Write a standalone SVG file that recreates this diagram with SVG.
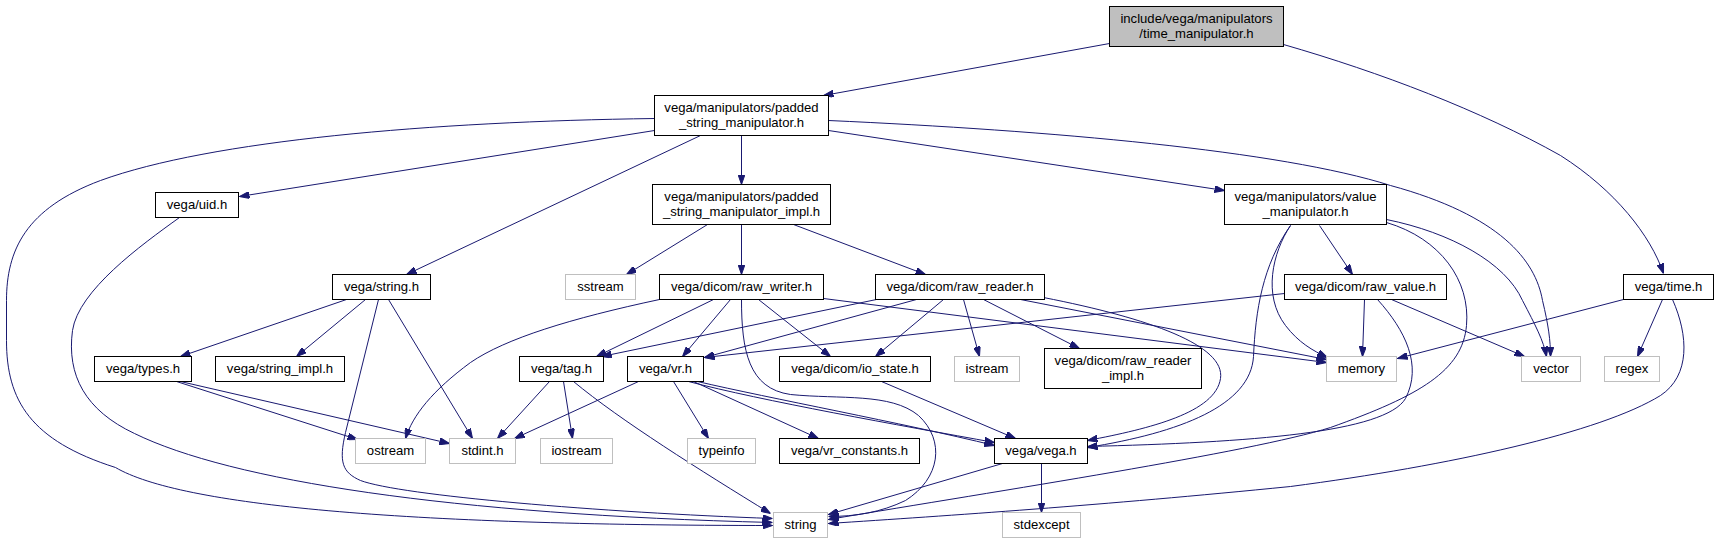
<svg xmlns="http://www.w3.org/2000/svg" width="1719" height="544" viewBox="0 0 1719 544">
<style>
.n rect{fill:#ffffff;stroke:#000000;stroke-width:1}
.n.g rect{stroke:#bfbfbf}
.n.top rect{fill:#bfbfbf}
.n text{font-family:"Liberation Sans",Arial,Helvetica,sans-serif;font-size:13.1px;text-anchor:middle;fill:#000000}
#edges path{fill:none;stroke:#191970;stroke-width:1;marker-end:url(#ah)}
</style>
<defs>
<marker id="ah" viewBox="0 0 10 7" refX="10" refY="3.5" markerWidth="10" markerHeight="7" orient="auto" markerUnits="userSpaceOnUse">
<path d="M0,0 L10,3.5 L0,7 z" fill="#191970" stroke="#191970" stroke-width="1"/>
</marker>
</defs>
<rect width="1719" height="544" fill="#ffffff"/>
<g transform="translate(0.5,0.5)">
<g id="edges">
<path d="M1109,43 L823,95"/>
<path d="M1283,44 C1380,72 1480,110 1560,155 C1615,190 1650,235 1663,273"/>
<path d="M654,118 C430,121 210,140 100,180 C25,208 6,250 6,300 L6,340 C6,400 30,440 115,467 C180,505 400,525 772,525"/>
<path d="M654,130 L239,196"/>
<path d="M700,135 L406,274"/>
<path d="M741,135 L741,184"/>
<path d="M828,130 L1224,190"/>
<path d="M828,120 C1050,130 1280,150 1390,185 C1500,215 1535,260 1542,300 C1548,325 1550,340 1550,356"/>
<path d="M179,217 C140,245 78,290 72,330 C66,375 85,410 134,433 C230,480 450,514 772,522"/>
<path d="M346,299 L180,356"/>
<path d="M365,299 L296,356"/>
<path d="M378,299 L345,432 C338,462 342,472 360,480 C400,495 600,512 772,518"/>
<path d="M388,299 L472,438"/>
<path d="M176,381 L357,439"/>
<path d="M180,381 L449,443"/>
<path d="M707,224 L626,274"/>
<path d="M741,224 L741,274"/>
<path d="M793,224 L925,274"/>
<path d="M659,299 C570,318 505,338 470,362 C432,390 412,415 405,438"/>
<path d="M713,299 L596,356"/>
<path d="M730,299 L682,356"/>
<path d="M741,299 C741,350 748,388 790,394 C840,399 890,392 918,415 C945,440 940,478 905,500 C880,512 855,516 828,516"/>
<path d="M758,299 L830,356"/>
<path d="M823,298 L1326,362"/>
<path d="M876,299 L601,356"/>
<path d="M916,299 L704,357"/>
<path d="M943,299 L875,356"/>
<path d="M963,299 L979,356"/>
<path d="M983,299 L1079,348"/>
<path d="M1020,299 L1326,359"/>
<path d="M1043,297 C1150,318 1225,345 1220,378 C1215,412 1150,428 1087,440"/>
<path d="M549,381 L497,438"/>
<path d="M563,381 L572,438"/>
<path d="M573,381 C620,420 700,470 770,513"/>
<path d="M638,381 L514,438"/>
<path d="M673,381 L708,438"/>
<path d="M693,381 L818,438"/>
<path d="M688,381 C760,400 900,425 994,442"/>
<path d="M697,381 C770,398 900,422 994,445"/>
<path d="M881,381 L1015,438"/>
<path d="M1002,463 L828,514"/>
<path d="M1041,463 L1041,512"/>
<path d="M1319,225 L1352,274"/>
<path d="M1290,225 C1272,252 1262,295 1285,325 C1298,342 1312,350 1327,357"/>
<path d="M1290,225 C1262,265 1255,310 1253,356 C1250,405 1180,432 1087,447"/>
<path d="M1386,222 C1440,238 1470,280 1466,325 C1462,370 1420,395 1330,427 C1250,452 1000,490 828,519"/>
<path d="M1386,219 C1450,232 1505,262 1522,300 C1535,325 1543,340 1546,356"/>
<path d="M1284,293 L704,357"/>
<path d="M1364,299 L1362,356"/>
<path d="M1377,299 C1405,330 1422,365 1405,398 C1385,432 1250,442 1087,446"/>
<path d="M1391,299 L1524,356"/>
<path d="M1623,299 L1397,358"/>
<path d="M1662,299 L1637,356"/>
<path d="M1672,299 C1688,335 1690,375 1660,395 C1600,432 1450,465 1290,486 C1100,505 950,515 828,523"/>
</g>
<g id="n_time_manipulator" class="n top"><rect x="1109" y="6" width="174" height="40"/><text x="1196" y="22.5">include/vega/manipulators</text><text x="1196" y="37.5">/time_manipulator.h</text></g>
<g id="n_padded" class="n"><rect x="654" y="95" width="174" height="40"/><text x="741" y="111.5">vega/manipulators/padded</text><text x="741" y="126.5">_string_manipulator.h</text></g>
<g id="n_padded_impl" class="n"><rect x="652" y="184" width="178" height="40"/><text x="741" y="200.5">vega/manipulators/padded</text><text x="741" y="215.5">_string_manipulator_impl.h</text></g>
<g id="n_value" class="n"><rect x="1224" y="184" width="162" height="40"/><text x="1305" y="200.5">vega/manipulators/value</text><text x="1305" y="215.5">_manipulator.h</text></g>
<g id="n_uid" class="n"><rect x="155" y="192" width="83" height="25"/><text x="196.5" y="208.5">vega/uid.h</text></g>
<g id="n_string_h" class="n"><rect x="332" y="274" width="98" height="25"/><text x="381" y="290.5">vega/string.h</text></g>
<g id="n_sstream" class="n g"><rect x="565" y="274" width="70" height="25"/><text x="600" y="290.5">sstream</text></g>
<g id="n_raw_writer" class="n"><rect x="659" y="274" width="164" height="25"/><text x="741" y="290.5">vega/dicom/raw_writer.h</text></g>
<g id="n_raw_reader" class="n"><rect x="875" y="274" width="169" height="25"/><text x="959.5" y="290.5">vega/dicom/raw_reader.h</text></g>
<g id="n_raw_value" class="n"><rect x="1284" y="274" width="162" height="25"/><text x="1365" y="290.5">vega/dicom/raw_value.h</text></g>
<g id="n_time" class="n"><rect x="1623" y="274" width="90" height="25"/><text x="1668" y="290.5">vega/time.h</text></g>
<g id="n_types" class="n"><rect x="94" y="356" width="97" height="25"/><text x="142.5" y="372.5">vega/types.h</text></g>
<g id="n_string_impl" class="n"><rect x="215" y="356" width="129" height="25"/><text x="279.5" y="372.5">vega/string_impl.h</text></g>
<g id="n_tag" class="n"><rect x="519" y="356" width="84" height="25"/><text x="561" y="372.5">vega/tag.h</text></g>
<g id="n_vr" class="n"><rect x="627" y="356" width="76" height="25"/><text x="665" y="372.5">vega/vr.h</text></g>
<g id="n_io_state" class="n"><rect x="779" y="356" width="151" height="25"/><text x="854.5" y="372.5">vega/dicom/io_state.h</text></g>
<g id="n_istream" class="n g"><rect x="954" y="356" width="65" height="25"/><text x="986.5" y="372.5">istream</text></g>
<g id="n_raw_reader_impl" class="n"><rect x="1044" y="348" width="157" height="40"/><text x="1122.5" y="364.5">vega/dicom/raw_reader</text><text x="1122.5" y="379.5">_impl.h</text></g>
<g id="n_memory" class="n g"><rect x="1326" y="356" width="70" height="25"/><text x="1361" y="372.5">memory</text></g>
<g id="n_vector" class="n g"><rect x="1521" y="356" width="59" height="25"/><text x="1550.5" y="372.5">vector</text></g>
<g id="n_regex" class="n g"><rect x="1604" y="356" width="55" height="25"/><text x="1631.5" y="372.5">regex</text></g>
<g id="n_ostream" class="n g"><rect x="355" y="438" width="70" height="25"/><text x="390" y="454.5">ostream</text></g>
<g id="n_stdint" class="n g"><rect x="449" y="438" width="66" height="25"/><text x="482" y="454.5">stdint.h</text></g>
<g id="n_iostream" class="n g"><rect x="540" y="438" width="72" height="25"/><text x="576" y="454.5">iostream</text></g>
<g id="n_typeinfo" class="n g"><rect x="687" y="438" width="68" height="25"/><text x="721" y="454.5">typeinfo</text></g>
<g id="n_vr_constants" class="n"><rect x="779" y="438" width="140" height="25"/><text x="849" y="454.5">vega/vr_constants.h</text></g>
<g id="n_vega" class="n"><rect x="994" y="438" width="93" height="25"/><text x="1040.5" y="454.5">vega/vega.h</text></g>
<g id="n_string" class="n g"><rect x="773" y="512" width="54" height="25"/><text x="800" y="528.5">string</text></g>
<g id="n_stdexcept" class="n g"><rect x="1002" y="512" width="78" height="25"/><text x="1041" y="528.5">stdexcept</text></g>
</g>
</svg>
